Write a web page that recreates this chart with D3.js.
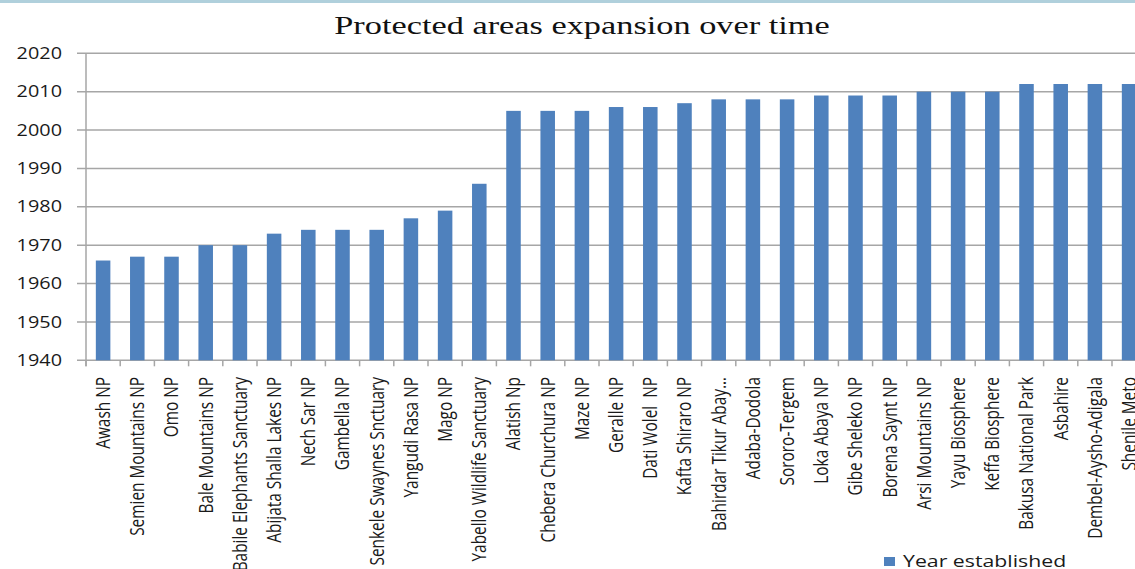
<!DOCTYPE html>
<html>
<head>
<meta charset="utf-8">
<script src="https://cdn.jsdelivr.net/npm/d3@7"></script>
<style>
  html, body { margin: 0; padding: 0; background: #ffffff; }
  svg { display: block; }
  text { white-space: pre; }
</style>
</head>
<body>
<script>
const categories = [
  "Awash NP", "Semien Mountains NP", "Omo NP", "Bale Mountains NP",
  "Babile Elephants Sanctuary", "Abijata Shalla Lakes NP", "Nech Sar NP",
  "Gambella NP", "Senkele Swaynes Snctuary", "Yangudi Rasa NP", "Mago NP",
  "Yabello Wildlife Sanctuary", "Alatish Np", "Chebera Churchura NP", "Maze NP",
  "Geralle NP", "Dati Wolel  NP", "Kafta Shiraro NP", "Bahirdar Tikur Abay\u2026",
  "Adaba-Dodola", "Sororo-Tergem", "Loka Abaya NP", "Gibe Sheleko NP",
  "Borena Saynt NP", "Arsi Mountains NP", "Yayu Biosphere", "Keffa Biosphere",
  "Bakusa National Park", "Asbahire", "Dembel-Aysho-Adigala", "Shenile Meto"
];
const yearEstablished = [
  1966, 1967, 1967, 1970, 1970, 1973, 1974, 1974, 1974, 1977, 1979,
  1986, 2005, 2005, 2005, 2006, 2006, 2007, 2008, 2008, 2008, 2009,
  2009, 2009, 2010, 2010, 2010, 2012, 2012, 2012, 2012
];
const yTicks = [1940, 1950, 1960, 1970, 1980, 1990, 2000, 2010, 2020];
const seriesName = "Year established";
const chartTitle = "Protected areas expansion over time";

const W = 1135, H = 569;
const SX = 1.25; // horizontal stretch of glyphs seen in the reference
const barColor = "#4f81bd";
const gridColor = "#a6a6a6";

const svg = d3.select("body").append("svg")
  .attr("width", W).attr("height", H);

// thin light-blue band across the very top
svg.append("rect").attr("x", 0).attr("y", 0).attr("width", W).attr("height", 3)
  .attr("fill", "#b0d0dc");

const left = 86, step = 34.2;
const x = d3.scaleBand()
  .domain(categories)
  .range([left, left + step * categories.length])
  .paddingInner(0.575)
  .paddingOuter(0.2875);

const y = d3.scaleLinear().domain([1940, 2020]).range([360.3, 53.3]);

// gridlines
svg.append("g").selectAll("line").data(yTicks).join("line")
  .attr("x1", left - 9).attr("x2", W + 20)
  .attr("y1", d => y(d)).attr("y2", d => y(d))
  .attr("stroke", gridColor).attr("stroke-width", 1.5);

// y axis line
svg.append("line").attr("x1", left).attr("x2", left)
  .attr("y1", y(2020)).attr("y2", y(1940) + 6)
  .attr("stroke", gridColor).attr("stroke-width", 1.5);

// y tick labels
svg.append("g").selectAll("text").data(yTicks).join("text")
  .attr("transform", d => `translate(62,${y(d)}) scale(${SX + 0.03},1)`)
  .attr("dy", "0.36em")
  .attr("text-anchor", "end")
  .attr("font-family", "'Open Sans', sans-serif")
  .attr("font-size", 15.5)
  .attr("fill", "#1a1a1a")
  .text(d => d);

// bars
svg.append("g").selectAll("rect").data(categories).join("rect")
  .attr("x", d => x(d))
  .attr("width", x.bandwidth())
  .attr("y", (d, i) => y(yearEstablished[i]))
  .attr("height", (d, i) => y(1940) - y(yearEstablished[i]))
  .attr("fill", barColor);

// x tick marks at category boundaries
const bounds = d3.range(categories.length + 1).map(i => left + i * x.step());
svg.append("g").selectAll("line").data(bounds).join("line")
  .attr("x1", d => d).attr("x2", d => d)
  .attr("y1", y(1940)).attr("y2", y(1940) + 6)
  .attr("stroke", gridColor).attr("stroke-width", 1.5);

// x labels (rotated)
svg.append("g").selectAll("text").data(categories).join("text")
  .attr("transform", d => `translate(${x(d) + x.bandwidth() / 2},377) rotate(-90) scale(1,${SX})`)
  .attr("dy", "0.36em")
  .attr("text-anchor", "end")
  .attr("font-family", "'Open Sans', sans-serif")
  .attr("font-size", 15.4)
  .attr("fill", "#1a1a1a")
  .text(d => d);

// title
svg.append("text")
  .attr("transform", `translate(582,33.5) scale(1.32,1)`)
  .attr("text-anchor", "middle")
  .attr("font-family", "'Liberation Serif', 'Times New Roman', serif")
  .attr("font-size", 26)
  .attr("fill", "#111")
  .text(chartTitle);

// legend
const lg = svg.append("g");
lg.append("rect").attr("x", 884).attr("y", 557).attr("width", 11).attr("height", 9)
  .attr("fill", barColor);
lg.append("text")
  .attr("transform", `translate(903,567) scale(1.33,1)`)
  .attr("font-family", "'Open Sans', sans-serif")
  .attr("font-size", 16)
  .attr("fill", "#1a1a1a")
  .text(seriesName);
</script>
</body>
</html>
